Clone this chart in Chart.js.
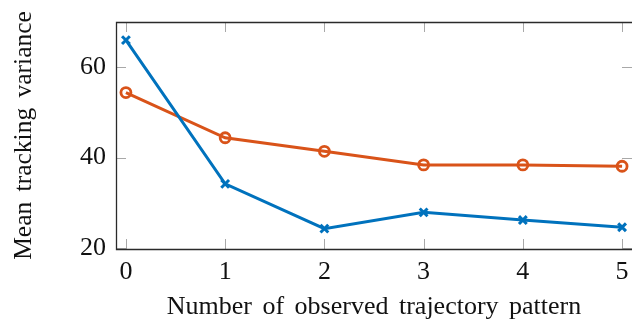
<!DOCTYPE html>
<html>
<head>
<meta charset="utf-8">
<script src="https://cdn.jsdelivr.net/npm/chart.js@4/dist/chart.umd.min.js"></script>
<style>
  html, body { margin: 0; padding: 0; background: #fff; overflow: hidden; }
  #wrap { width: 632px; height: 324px; }
</style>
</head>
<body>
<div id="wrap"><canvas id="chart"></canvas></div>
<script>
const patterns = [0, 1, 2, 3, 4, 5];
const varianceBlue = [66.0, 34.2, 24.3, 27.9, 26.2, 24.6];
const varianceOrange = [54.4, 44.4, 41.4, 38.4, 38.4, 38.1];
const xTicks = [0, 1, 2, 3, 4, 5];
const yTicks = [20, 40, 60];

const serif = 'Liberation Serif, Times New Roman, serif';

// open frame (left, top, bottom) plus inward tick marks on all four sides;
// the right edge of the axis box runs past the canvas
const framePlugin = {
  id: 'frame',
  beforeDraw(chart) {
    chart.ctx.wordSpacing = '4px';
  },
  afterDatasetsDraw(chart) {
    const { ctx, chartArea: a, scales: { x, y } } = chart;
    ctx.save();
    ctx.lineWidth = 1;
    ctx.strokeStyle = '#a8a8a8';
    ctx.beginPath();
    xTicks.forEach(v => {
      const px = Math.round(x.getPixelForValue(v)) + 0.5;
      ctx.moveTo(px, a.bottom); ctx.lineTo(px, a.bottom - 10);
      ctx.moveTo(px, a.top); ctx.lineTo(px, a.top + 10);
    });
    yTicks.forEach(v => {
      const py = Math.round(y.getPixelForValue(v)) + 0.5;
      ctx.moveTo(a.left, py); ctx.lineTo(a.left + 10, py);
      ctx.moveTo(a.right, py); ctx.lineTo(a.right - 10, py);
    });
    ctx.stroke();
    const l = Math.round(a.left) + 0.5;
    const t = Math.round(a.top) + 0.5;
    const b = Math.round(a.bottom) + 0.5;
    ctx.strokeStyle = '#2a2a2a';
    ctx.lineWidth = 1.3;
    ctx.beginPath();
    ctx.moveTo(a.right + 2, t);
    ctx.lineTo(l, t);
    ctx.lineTo(l, b);
    ctx.lineTo(a.right + 2, b);
    ctx.stroke();
    ctx.restore();
  }
};

const noScalePadding = s => {
  s.paddingTop = 0; s.paddingBottom = 0;
  s.paddingLeft = 0; s.paddingRight = 0;
};

new Chart(document.getElementById('chart'), {
  type: 'line',
  data: {
    datasets: [
      {
        data: patterns.map((p, i) => ({ x: p, y: varianceBlue[i] })),
        borderColor: '#0072BD',
        backgroundColor: '#0072BD',
        borderWidth: 3,
        pointStyle: 'crossRot',
        pointRadius: 5.5,
        pointBorderWidth: 3,
        tension: 0,
      },
      {
        data: patterns.map((p, i) => ({ x: p, y: varianceOrange[i] })),
        borderColor: '#D95319',
        backgroundColor: 'rgba(0,0,0,0)',
        borderWidth: 3,
        pointStyle: 'circle',
        pointRadius: 5,
        pointBorderWidth: 2.8,
        tension: 0,
      },
    ],
  },
  options: {
    responsive: true,
    maintainAspectRatio: false,
    animation: false,
    clip: false,
    layout: { autoPadding: false, padding: { top: 22, right: 0, left: 0, bottom: 0 } },
    plugins: { legend: { display: false }, tooltip: { enabled: false } },
    scales: {
      x: {
        type: 'linear',
        min: -0.1,
        max: 5.1,
        afterBuildTicks: s => { s.ticks = xTicks.map(v => ({ value: v })); },
        afterFit: s => { s.height = 75; noScalePadding(s); },
        grid: { display: false, drawTicks: false },
        border: { display: false },
        ticks: { color: '#111', padding: 8, font: { family: serif, size: 26 } },
        title: {
          display: true,
          text: 'Number of observed trajectory pattern',
          color: '#111',
          padding: { top: 0, bottom: 1 },
          font: { family: serif, size: 26 },
        },
      },
      y: {
        min: 19.8,
        max: 70,
        afterBuildTicks: s => { s.ticks = yTicks.map(v => ({ value: v })); },
        afterFit: s => { s.width = 116; noScalePadding(s); },
        grid: { display: false, drawTicks: false },
        border: { display: false },
        ticks: { color: '#111', padding: 10, font: { family: serif, size: 26 } },
        title: {
          display: true,
          text: 'Mean tracking variance',
          color: '#111',
          padding: { top: 9, bottom: 0 },
          font: { family: serif, size: 25.5 },
        },
      },
    },
  },
  plugins: [framePlugin],
});
</script>
</body>
</html>
